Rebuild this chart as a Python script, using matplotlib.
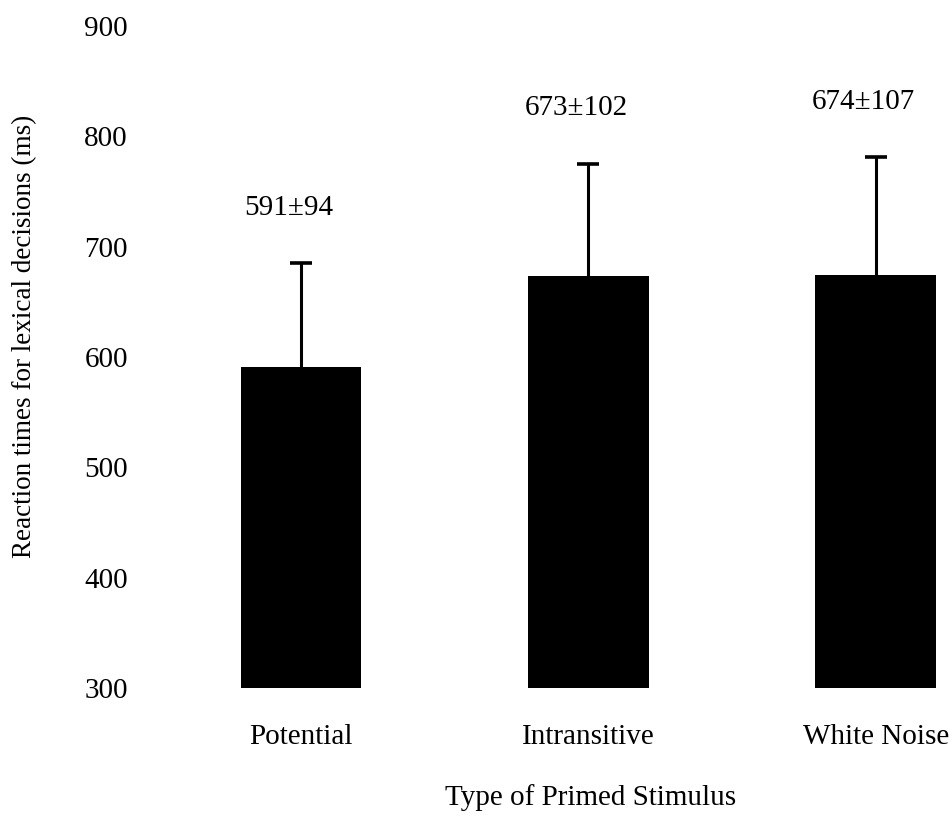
import matplotlib.pyplot as plt
import numpy as np

plt.rcParams["font.family"] = ["Liberation Serif", "DejaVu Serif"]

categories = ["Potential", "Intransitive", "White Noise"]
means = [591, 673, 674]
sds = [94, 102, 107]
labels = ["591\u00b194", "673\u00b1102", "674\u00b1107"]
yticks = [300, 400, 500, 600, 700, 800, 900]

W, H = 953, 819
fig = plt.figure(figsize=(W / 100, H / 100), dpi=100)
ax = fig.add_axes([150 / W, (H - 688) / H, (950 - 150) / W, (688 - 26) / H])

x = np.arange(len(categories))
ax.bar(x, np.array(means) - 300, bottom=300, width=0.42, color="black")
eb = ax.errorbar(x, means, yerr=[np.zeros(len(sds)), sds], fmt="none",
                 ecolor="black", elinewidth=2.2, capsize=8, capthick=2.6)
eb[1][0].set_visible(False)  # no lower cap

for xi, m, s, lab in zip(x, means, sds, labels):
    ax.annotate(lab, (xi, m + s), xytext=(-9, 40), textcoords="offset points",
                ha="center", va="center", fontsize=21)

ax.set_xlim(-0.525, 2.258)
ax.set_ylim(300, 900)
ax.set_yticks(yticks)
ax.set_xticks(x)
ax.set_xticklabels(categories)
ax.tick_params(axis="both", length=0, labelsize=21)
ax.tick_params(axis="x", pad=26)
ax.tick_params(axis="y", pad=16)
for sp in ax.spines.values():
    sp.set_visible(False)

fig.text(591 / W, 1 - 798 / H, "Type of Primed Stimulus", ha="center",
         va="center", fontsize=21)
fig.text(25 / W, 1 - 336 / H, "Reaction times for lexical decisions (ms)",
         ha="center", va="center", rotation=90, fontsize=19.5)

fig.savefig("out.png", dpi=100)
